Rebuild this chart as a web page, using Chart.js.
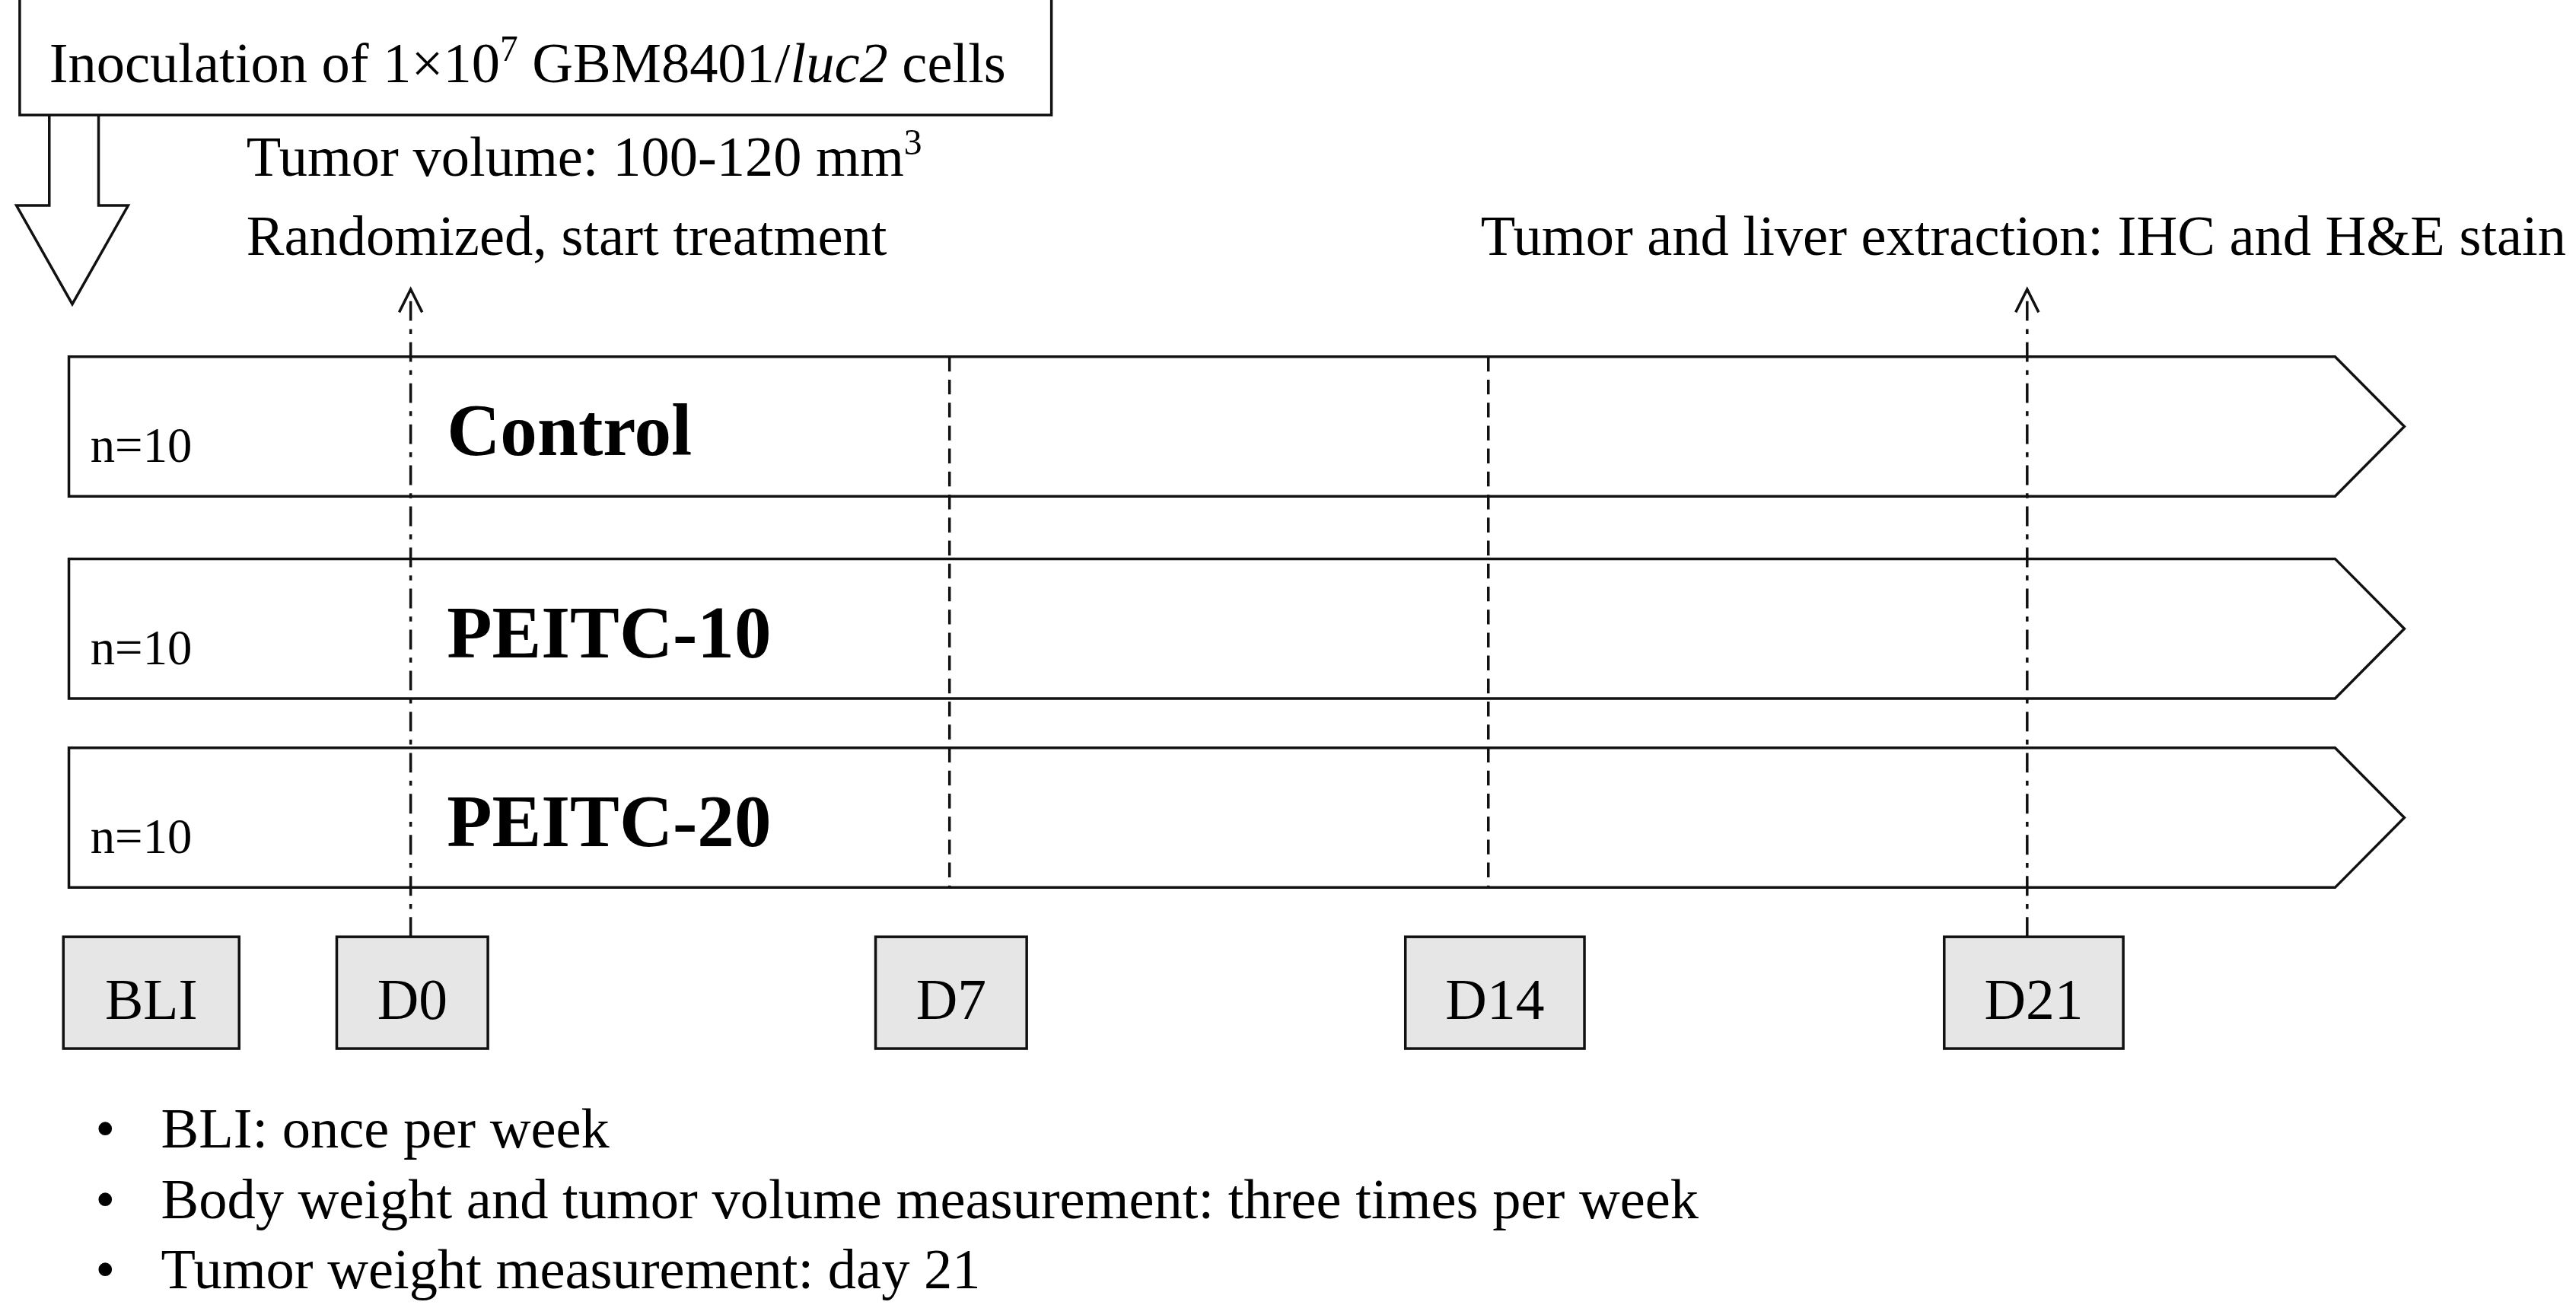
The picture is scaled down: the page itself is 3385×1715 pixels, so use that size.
<!DOCTYPE html>
<html>
<head>
<meta charset="utf-8">
<script src="https://cdn.jsdelivr.net/npm/chart.js@4.4.1/dist/chart.umd.min.js"></script>
<style>
html,body{margin:0;padding:0;background:#fff;}
#wrap{width:3385px;height:1715px;}
</style>
</head>
<body>
<div id="wrap"><canvas id="c"></canvas></div>
<script>
// timeline data
const days = [0, 7, 14, 21];
const dayLabels = ['D0', 'D7', 'D14', 'D21'];
const markedDays = [0, 21];        // dash-dot arrows
const groups = ['Control', 'PEITC-10', 'PEITC-20'];
const groupN = ['n=10', 'n=10', 'n=10'];
const notes = [
  'BLI: once per week',
  'Body weight and tumor volume measurement: three times per week',
  'Tumor weight measurement: day 21'
];

const S = 3385 / 1568;
const SERIF = '"Liberation Serif", "DejaVu Serif", serif';

const diagram = {
  id: 'diagram',
  afterDraw(chart) {
    const ctx = chart.ctx;
    const xs = chart.scales.x, ys = chart.scales.y;
    const X = d => xs.getPixelForValue(d);
    const Y = v => ys.getPixelForValue(v);
    const px = v => v * S;
    ctx.save();
    ctx.strokeStyle = '#111';
    ctx.fillStyle = '#000';
    ctx.lineWidth = 3.5;
    ctx.textBaseline = 'alphabetic';
    const F = `${px(34.5)}px ${SERIF}`;

    // top box
    ctx.strokeRect(px(12), Y(-2), px(628), Y(70) - Y(-2));
    let tx = px(30), ty = Y(50);
    const seg = (t, f) => { ctx.font = f; ctx.fillText(t, tx, ty); tx += ctx.measureText(t).width; };
    seg('Inoculation of 1\u00d710', F);
    ctx.font = `${px(22)}px ${SERIF}`; ctx.fillText('7', tx, ty - px(13)); tx += ctx.measureText('7').width;
    seg(' GBM8401/', F);
    seg('luc2', `italic ${px(34.5)}px ${SERIF}`);
    seg(' cells', F);

    // hollow down arrow
    ctx.beginPath();
    ctx.moveTo(px(30), Y(70)); ctx.lineTo(px(30), Y(125)); ctx.lineTo(px(10), Y(125));
    ctx.lineTo(px(44), Y(185)); ctx.lineTo(px(78), Y(125)); ctx.lineTo(px(60), Y(125));
    ctx.lineTo(px(60), Y(70));
    ctx.stroke();

    // headings
    tx = px(150); ty = Y(107);
    seg('Tumor volume: 100-120 mm', F);
    ctx.font = `${px(22)}px ${SERIF}`; ctx.fillText('3', tx, ty - px(13));
    ctx.font = F;
    ctx.fillText('Randomized, start treatment', px(150), Y(155));
    ctx.textAlign = 'right';
    ctx.fillText('Tumor and liver extraction: IHC and H&E stain', px(1562), Y(155));
    ctx.textAlign = 'left';

    // group bands
    const bandTop = [217, 340, 455], bandH = 85;
    const left = X(-4.44), body = X(25.0), tip = X(25.9);
    groups.forEach((g, i) => {
      const t = Y(bandTop[i]), b = Y(bandTop[i] + bandH), m = (t + b) / 2;
      ctx.beginPath();
      ctx.moveTo(left, t); ctx.lineTo(body, t); ctx.lineTo(tip, m);
      ctx.lineTo(body, b); ctx.lineTo(left, b); ctx.closePath();
      ctx.fillStyle = '#fff'; ctx.fill(); ctx.stroke();
      ctx.fillStyle = '#000';
      ctx.font = `${px(30)}px ${SERIF}`;
      ctx.fillText(groupN[i], px(55), Y(bandTop[i] + 64));
      ctx.font = `bold ${px(45)}px ${SERIF}`;
      ctx.fillText(g, px(272), Y(bandTop[i] + 60));
    });

    // vertical day lines
    days.forEach(d => {
      const x = X(d);
      const marked = markedDays.includes(d);
      ctx.setLineDash(marked ? [px(12), px(5), px(3), px(5)] : [px(9), px(5)]);
      ctx.beginPath();
      ctx.moveTo(x, Y(marked ? 570 : 217));
      ctx.lineTo(x, marked ? Y(178) : Y(540));
      ctx.stroke();
      ctx.setLineDash([]);
      if (marked) {
        ctx.beginPath();
        ctx.moveTo(x - px(7), Y(190)); ctx.lineTo(x, Y(176)); ctx.lineTo(x + px(7), Y(190));
        ctx.stroke();
      }
    });

    // day boxes
    const drawBox = (cx, w, label) => {
      ctx.fillStyle = '#e6e6e6';
      ctx.fillRect(cx - w / 2, Y(570), w, Y(638) - Y(570));
      ctx.strokeRect(cx - w / 2, Y(570), w, Y(638) - Y(570));
      ctx.fillStyle = '#000';
      ctx.font = `${px(35)}px ${SERIF}`;
      ctx.textAlign = 'center';
      ctx.fillText(label, cx, Y(620));
      ctx.textAlign = 'left';
    };
    drawBox(X(-3.37), px(107), 'BLI');
    days.forEach((d, i) => drawBox(X(d) + px(i < 2 ? 1 : 4), px(i < 2 ? 92 : 109), dayLabels[i]));

    // bullet notes
    ctx.font = `${px(34.5)}px ${SERIF}`;
    notes.forEach((n, i) => {
      const y = Y(698 + i * 43);
      ctx.fillText('\u2022', px(58), y);
      ctx.fillText(n, px(98), y);
    });
    ctx.restore();
  }
};

new Chart(document.getElementById('c'), {
  type: 'scatter',
  data: { datasets: [{ data: days.map(d => ({ x: d, y: 600 })), pointRadius: 0 }] },
  options: {
    responsive: true, maintainAspectRatio: false, animation: false,
    layout: { padding: 0 },
    plugins: { legend: { display: false }, tooltip: { enabled: false } },
    scales: {
      x: { type: 'linear', min: -5.335, max: 28.13, display: false },
      y: { type: 'linear', min: 0, max: 794, reverse: true, display: false }
    }
  },
  plugins: [diagram]
});
</script>
</body>
</html>
